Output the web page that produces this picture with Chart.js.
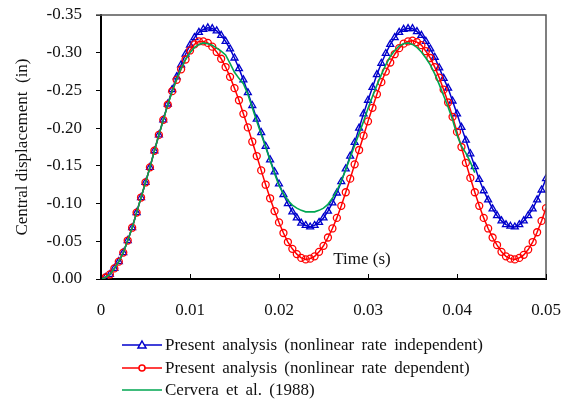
<!DOCTYPE html>
<html>
<head>
<meta charset="utf-8">
<script src="https://cdn.jsdelivr.net/npm/chart.js@4/dist/chart.umd.min.js"></script>
<style>
  html, body { margin: 0; padding: 0; background: #fff; }
  #wrap { width: 567px; height: 403px; }
</style>
</head>
<body>
<div id="wrap"><canvas id="myChart" width="567" height="403"></canvas></div>
<script>
// time (s)
const time = [0,0.0005,0.001,0.0015,0.002,0.0025,0.003,0.0035,0.004,0.0045,0.005,0.0055,0.006,0.0065,0.007,0.0075,0.008,0.0085,0.009,0.0095,
  0.01,0.0105,0.011,0.0115,0.012,0.0125,0.013,0.0135,0.014,0.0145,0.015,0.0155,0.016,0.0165,0.017,0.0175,0.018,0.0185,0.019,0.0195,
  0.02,0.0205,0.021,0.0215,0.022,0.0225,0.023,0.0235,0.024,0.0245,0.025,0.0255,0.026,0.0265,0.027,0.0275,0.028,0.0285,0.029,0.0295,
  0.03,0.0305,0.031,0.0315,0.032,0.0325,0.033,0.0335,0.034,0.0345,0.035,0.0355,0.036,0.0365,0.037,0.0375,0.038,0.0385,0.039,0.0395,
  0.04,0.0405,0.041,0.0415,0.042,0.0425,0.043,0.0435,0.044,0.0445,0.045,0.0455,0.046,0.0465,0.047,0.0475,0.048,0.0485,0.049,0.0495,0.05];

// central displacement (in)
const rateIndependent = [0,-0.002,-0.006,-0.014,-0.023,-0.035,-0.051,-0.068,-0.088,-0.108,-0.128,-0.148,-0.170,-0.191,-0.211,-0.232,-0.251,-0.268,-0.284,-0.298,
  -0.310,-0.320,-0.327,-0.331,-0.333,-0.332,-0.329,-0.323,-0.315,-0.305,-0.293,-0.279,-0.264,-0.247,-0.230,-0.212,-0.194,-0.176,-0.158,-0.142,
  -0.126,-0.112,-0.100,-0.089,-0.081,-0.074,-0.071,-0.069,-0.071,-0.075,-0.081,-0.090,-0.101,-0.114,-0.129,-0.146,-0.163,-0.181,-0.200,-0.219,
  -0.237,-0.254,-0.271,-0.286,-0.299,-0.311,-0.320,-0.327,-0.331,-0.332,-0.332,-0.328,-0.323,-0.315,-0.305,-0.294,-0.280,-0.266,-0.253,-0.236,
  -0.219,-0.201,-0.184,-0.166,-0.149,-0.132,-0.117,-0.105,-0.093,-0.084,-0.077,-0.072,-0.070,-0.069,-0.072,-0.077,-0.084,-0.093,-0.105,-0.118,-0.133];

const rateDependent = [0,-0.002,-0.006,-0.014,-0.023,-0.035,-0.051,-0.068,-0.088,-0.108,-0.128,-0.148,-0.170,-0.191,-0.211,-0.231,-0.249,-0.264,-0.278,-0.291,
  -0.303,-0.311,-0.315,-0.315,-0.313,-0.308,-0.301,-0.292,-0.281,-0.268,-0.253,-0.237,-0.219,-0.201,-0.182,-0.163,-0.144,-0.125,-0.107,-0.090,
  -0.075,-0.061,-0.049,-0.040,-0.033,-0.028,-0.026,-0.027,-0.030,-0.036,-0.044,-0.055,-0.067,-0.081,-0.097,-0.115,-0.133,-0.152,-0.171,-0.190,
  -0.209,-0.227,-0.245,-0.261,-0.275,-0.287,-0.298,-0.306,-0.312,-0.315,-0.316,-0.314,-0.310,-0.302,-0.293,-0.281,-0.267,-0.251,-0.234,-0.215,
  -0.195,-0.175,-0.154,-0.134,-0.115,-0.097,-0.081,-0.067,-0.055,-0.045,-0.036,-0.030,-0.027,-0.026,-0.028,-0.032,-0.039,-0.049,-0.062,-0.077,-0.094];

// Cervera et al. (1988), digitised up to t = 0.042 s
const cervera = [0,-0.002,-0.006,-0.014,-0.023,-0.035,-0.051,-0.068,-0.088,-0.108,-0.128,-0.148,-0.170,-0.191,-0.211,-0.231,-0.249,-0.265,-0.279,-0.291,
  -0.300,-0.307,-0.311,-0.313,-0.312,-0.310,-0.306,-0.302,-0.297,-0.286,-0.274,-0.266,-0.259,-0.245,-0.227,-0.209,-0.192,-0.175,-0.157,-0.140,
  -0.124,-0.113,-0.104,-0.098,-0.094,-0.091,-0.089,-0.089,-0.089,-0.091,-0.094,-0.099,-0.107,-0.117,-0.130,-0.145,-0.161,-0.177,-0.193,-0.209,
  -0.226,-0.242,-0.257,-0.271,-0.284,-0.295,-0.303,-0.309,-0.312,-0.313,-0.311,-0.307,-0.301,-0.293,-0.284,-0.272,-0.258,-0.243,-0.228,-0.211,
  -0.191,-0.176,-0.167,-0.155,-0.141];

const yTicks = [0, -0.05, -0.10, -0.15, -0.20, -0.25, -0.30, -0.35];
const xTicks = [0, 0.01, 0.02, 0.03, 0.04, 0.05];

const FONT = "'Liberation Serif', 'Times New Roman', serif";
const BLUE = '#0000cc';
const RED = '#ff0000';
const GREEN = '#00a651';

function pts(vals){
  let out = [];
  for(let i = 0; i < vals.length; i++){
    out.push({x: time[i], y: vals[i]});
  }
  return out;
}

// frame, inner x ticks, axis label inside the plot and the stacked legend
const extras = {
  id: 'extras',
  afterDraw(chart){
    const ctx = chart.ctx;
    const a = chart.chartArea;
    const xs = chart.scales.x;
    ctx.save();
    ctx.strokeStyle = '#555';
    ctx.lineWidth = 1.5;
    ctx.beginPath();
    ctx.moveTo(a.left - 5, a.top);
    ctx.lineTo(a.right, a.top);
    ctx.lineTo(a.right, a.bottom);
    ctx.stroke();

    ctx.strokeStyle = '#000';
    ctx.lineWidth = 1;
    xTicks.forEach(v => {
      const px = Math.round(xs.getPixelForValue(v)) + 0.5;
      ctx.beginPath();
      ctx.moveTo(px, a.bottom);
      ctx.lineTo(px, a.bottom - 5);
      ctx.stroke();
    });

    ctx.fillStyle = '#111';
    ctx.font = '17px ' + FONT;
    ctx.textAlign = 'center';
    ctx.textBaseline = 'middle';
    ctx.fillText('Time (s)', 362, 260);

    // legend
    const rows = [345, 368, 390];
    ctx.textAlign = 'left';
    ctx.wordSpacing = '3px';
    chart.data.datasets.forEach((ds, i) => {
      const y = rows[i];
      ctx.strokeStyle = ds.borderColor;
      ctx.lineWidth = 1.5;
      ctx.beginPath();
      ctx.moveTo(122, y);
      ctx.lineTo(162, y);
      ctx.stroke();
      if(ds.pointStyle === 'triangle'){
        ctx.beginPath();
        ctx.moveTo(142, y - 4);
        ctx.lineTo(146, y + 3);
        ctx.lineTo(138, y + 3);
        ctx.closePath();
        ctx.fillStyle = '#fff';
        ctx.fill();
        ctx.stroke();
      } else if(ds.pointRadius > 0){
        ctx.beginPath();
        ctx.arc(142, y, 3, 0, Math.PI * 2);
        ctx.fillStyle = '#fff';
        ctx.fill();
        ctx.stroke();
      }
      ctx.fillStyle = '#111';
      ctx.fillText(ds.label, 165, y + 1);
    });
    ctx.restore();
  }
};

let ctx = document.getElementById('myChart').getContext('2d');
Chart.defaults.font.family = FONT;
Chart.defaults.font.size = 17;
Chart.defaults.color = '#111';

let myChart = new Chart(ctx, {
  type: 'line',
  data: {
    datasets: [{
      label: 'Present analysis (nonlinear rate independent)',
      data: pts(rateIndependent),
      borderColor: BLUE,
      backgroundColor: 'rgba(0,0,0,0)',
      borderWidth: 1.5,
      pointStyle: 'triangle',
      pointRadius: 4,
      pointBorderWidth: 1.3,
      pointBorderColor: BLUE,
      pointBackgroundColor: 'rgba(0,0,0,0)',
      order: 3
    }, {
      label: 'Present analysis (nonlinear rate dependent)',
      data: pts(rateDependent),
      borderColor: RED,
      backgroundColor: 'rgba(0,0,0,0)',
      borderWidth: 1.5,
      pointStyle: 'circle',
      pointRadius: 3.5,
      pointBorderWidth: 1.3,
      pointBorderColor: RED,
      pointBackgroundColor: 'rgba(0,0,0,0)',
      order: 2
    }, {
      label: 'Cervera et al. (1988)',
      data: pts(cervera),
      borderColor: GREEN,
      backgroundColor: 'rgba(0,0,0,0)',
      borderWidth: 1.6,
      pointRadius: 0,
      order: 1
    }]
  },
  options: {
    responsive: false,
    animation: false,
    devicePixelRatio: 1,
    layout: { padding: { left: 8, right: 21, top: 15, bottom: 0 } },
    plugins: {
      legend: { display: false },
      tooltip: { enabled: false }
    },
    scales: {
      x: {
        type: 'linear',
        min: 0,
        max: 0.05,
        afterBuildTicks: (scale) => { scale.ticks = xTicks.map(v => ({value: v})); },
        afterFit: (scale) => { scale.height = 124; scale.paddingLeft = 0; scale.paddingRight = 0; },
        grid: { display: false },
        border: { display: true, color: '#000', width: 2 },
        ticks: {
          padding: 13,
          maxRotation: 0,
          callback: (v) => v === 0 ? '0' : v.toFixed(2)
        }
      },
      y: {
        type: 'linear',
        min: -0.35,
        max: 0,
        reverse: true,
        afterBuildTicks: (scale) => { scale.ticks = yTicks.map(v => ({value: v})); },
        afterFit: (scale) => { scale.width = 93; scale.paddingTop = 0; scale.paddingBottom = 0; },
        grid: { drawOnChartArea: false, drawTicks: true, tickLength: 5, color: '#000', lineWidth: 1 },
        border: { display: true, color: '#000', width: 2 },
        ticks: {
          padding: 14,
          callback: (v) => v.toFixed(2)
        },
        title: {
          display: true,
          text: 'Central displacement  (in)',
          padding: { top: 4, bottom: 0 },
          font: { size: 17 }
        }
      }
    }
  },
  plugins: [extras]
});
</script>
</body>
</html>
